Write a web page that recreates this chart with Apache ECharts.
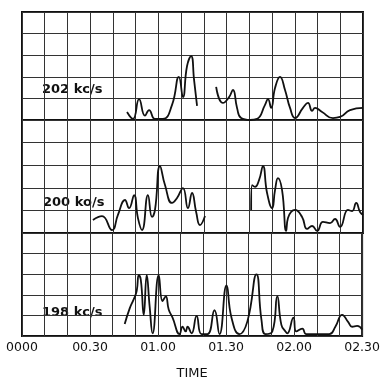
<!DOCTYPE html>
<html>
<head>
<meta charset="utf-8">
<script src="https://cdn.jsdelivr.net/npm/echarts@6/dist/echarts.min.js"></script>
<style>
  html, body { margin: 0; padding: 0; background: #fff; }
  #chart { width: 383px; height: 381px; }
</style>
</head>
<body>
<div id="chart"></div>
<script>
// x = minutes after 0000, y = signal level in grid units (0..5 per panel)
var timeLabels = ['0000', '00.30', '01.00', '01.30', '02.00', '02.30'];
var panelNames = ['202 kc/s', '200 ko/s', '198 kc/s'];

var s202a = [[46.2,0.37],[48.8,0.05],[51.5,0.97],[54.1,0.2],[55.9,0.46],[58.5,0.05],[62,0.05],
  [66,0.7],[69,2.0],[70.8,1.06],[72.6,2.5],[74.4,2.96],[75.7,1.85],[77,0.65]];
var s202b = [[85.4,1.53],[88.4,0.79],[91.1,1.06],[92.8,1.39],[94.6,0.56],[96.4,0.09],[100.3,0],
  [103.4,0.05],[106.9,0.7],[108.2,0.97],[109.6,0.56],[111.3,1.48],[113.5,2.0],[115.7,1.39],
  [117.9,0.56],[120.1,0.09],[123.6,0.56],[125.8,0.79],[127.6,0.42],[128.9,0.56],[132,0.37],
  [136.8,0.09],[139.9,0.14],[144.3,0.46],[150,0.56]];

var s200a = [[31.2,0.58],[35.2,0.75],[39.6,0.13],[42.2,0.8],[45.3,1.46],[47.1,1.1],[49.3,1.68],
  [51,0.66],[52.8,0.13],[55.4,1.68],[57.2,0.71],[58.5,1.02],[60.7,2.96],[62.9,2.12],[66,1.33],
  [68.2,1.55],[70.8,1.99],[73,1.1],[74.8,1.77],[76.6,0.93],[78.3,0.35],[80.5,0.75]];
var s200b = [[100.8,1.02],[101.2,2.12],[102.5,2.04],[104.3,2.35],[106,2.96],[107.8,1.77],[110,1.1],
  [111.3,1.9],[112.6,2.43],[114.4,1.9],[116.2,0.09],[117,0.66],[120.1,1.02],[123.2,0.71],
  [125.4,0.18],[127.6,0.31],[129.8,0.09],[132.4,0.49],[135.5,0.44],[137.7,0.62],[139.9,0.27],
  [143.4,1.02],[145.2,0.97],[147,1.33],[148.7,0.93],[150,0.8]];

var s198 = [[45.3,0.58],[47.5,1.34],[49.3,1.79],[50.6,2.19],[51.5,2.95],[52.4,2.72],[53.7,1.03],
  [55,2.95],[56.3,1.43],[57.6,0.13],[60.3,2.95],[62,1.7],[63.4,1.92],[64.7,1.29],[66.4,0.89],
  [69.5,0.09],[70.8,0.45],[72.2,0.22],[73,0.45],[74.8,0.13],[77,0.98],[79.2,0.09],[81.8,0.09],
  [84.9,1.25],[87.1,0.09],[90.2,2.46],[92.4,0.89],[95.9,0.09],[99.4,0.71],[103.4,2.99],
  [105.6,0.8],[107.4,0.09],[110.4,0.22],[112.6,1.92],[114.4,0.54],[116.2,0.22],[117,0.13],
  [119.7,0.89],[121,0.22],[123.6,0.36],[125.4,0.09],[135.5,0.09],[138.2,0.45],[141.2,1.03],
  [143.9,0.67],[145.6,0.45],[147.8,0.49],[150,0.31]];

var chart = echarts.init(document.getElementById('chart'));

var gridLine = { show: true, lineStyle: { color: '#333', width: 1 } };
var grids = [
  { left: 22, right: 20, top: 12, height: 108 },
  { left: 22, right: 20, top: 120, height: 113 },
  { left: 22, right: 20, top: 233, height: 112 }
].map(function (g) {
  g.show = true; g.borderColor = '#111'; g.borderWidth = 2;
  return g;
});

var xAxes = [0, 1, 2].map(function (i) {
  return {
    type: 'value', gridIndex: i, min: 0, max: 150, interval: 10,
    axisLine: { show: false }, axisTick: { show: false },
    splitLine: gridLine,
    axisLabel: i === 2 ? {
      show: true, margin: 5, color: '#111', fontSize: 12.5,
      fontFamily: 'DejaVu Sans', showMinLabel: true, showMaxLabel: true,
      formatter: function (v) { return v % 30 === 0 ? timeLabels[v / 30] : ''; }
    } : { show: false },
    name: i === 2 ? 'TIME' : '',
    nameLocation: 'middle', nameGap: 31,
    nameTextStyle: { color: '#111', fontSize: 13, fontFamily: 'DejaVu Sans' }
  };
});

var yAxes = [0, 1, 2].map(function (i) {
  return {
    type: 'value', gridIndex: i, min: 0, max: 5, interval: 1,
    axisLine: { show: false }, axisTick: { show: false },
    axisLabel: { show: false }, splitLine: gridLine
  };
});

function trace(data, i) {
  return {
    type: 'line', xAxisIndex: i, yAxisIndex: i, data: data,
    smooth: 0.5, symbol: 'none',
    lineStyle: { color: '#111', width: 1.8 }
  };
}

var labelStyle = { fontSize: 13, fontWeight: 'bold', fontFamily: 'DejaVu Sans', fill: '#111' };
chart.setOption({
  animation: false,
  grid: grids,
  xAxis: xAxes,
  yAxis: yAxes,
  graphic: [
    { type: 'text', left: 42, top: 83, style: Object.assign({ text: panelNames[0] }, labelStyle) },
    { type: 'text', left: 43, top: 196, style: Object.assign({ text: panelNames[1] }, labelStyle) },
    { type: 'text', left: 42, top: 306, style: Object.assign({ text: panelNames[2] }, labelStyle) }
  ],
  series: [
    trace(s202a, 0), trace(s202b, 0),
    trace(s200a, 1), trace(s200b, 1),
    trace(s198, 2)
  ]
});
</script>
</body>
</html>
